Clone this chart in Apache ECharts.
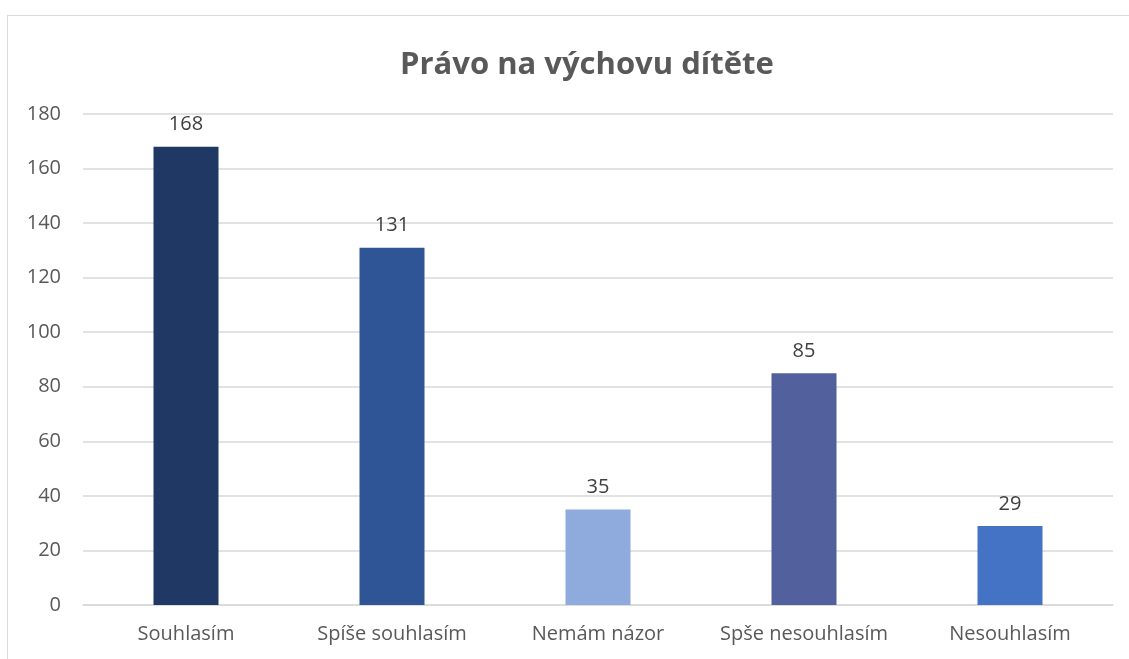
<!DOCTYPE html>
<html>
<head>
<meta charset="utf-8">
<script src="https://cdn.jsdelivr.net/npm/echarts@6/dist/echarts.min.js"></script>
<style>
  html, body { margin: 0; padding: 0; background: #fff; }
  #frame { position: absolute; left: 7px; top: 15px; width: 1140px; height: 680px; border: 1px solid #d9d9d9; box-sizing: border-box; }
  #chart { position: absolute; left: 0; top: 0; width: 1129px; height: 659px; }
</style>
</head>
<body>
<div id="frame"></div>
<div id="chart"></div>
<script>
// data
const categories = ['Souhlasím', 'Spíše souhlasím', 'Nemám názor', 'Spše nesouhlasím', 'Nesouhlasím']
const values = [168, 131, 35, 85, 29]
const barColors = ['#203864', '#2f5597', '#8faadc', '#52619d', '#4472c4']

const chart = echarts.init(document.getElementById('chart'))
const font = '"Open Sans", "Noto Sans", sans-serif'

chart.setOption({
  animation: false,
  title: {
    text: 'Právo na výchovu dítěte',
    left: 395,
    top: 45,
    textStyle: { fontFamily: font, fontSize: 31, fontWeight: 'bold', color: '#595959' }
  },
  grid: { left: 83, right: 16, top: 114, bottom: 54 },
  xAxis: {
    type: 'category',
    data: categories,
    axisTick: { show: false },
    axisLine: { lineStyle: { color: '#d9d9d9', width: 1.5 } },
    axisLabel: { interval: 0, hideOverlap: false, margin: 19, fontFamily: font, fontSize: 20, color: '#595959' }
  },
  yAxis: {
    type: 'value',
    min: 0,
    max: 180,
    interval: 20,
    axisLine: { show: false },
    axisTick: { show: false },
    splitLine: { lineStyle: { color: '#d9d9d9', width: 1.5 } },
    axisLabel: { margin: 22, fontFamily: font, fontSize: 20, color: '#595959' }
  },
  series: [{
    type: 'bar',
    barWidth: 65,
    data: values.map((v, i) => ({ value: v, itemStyle: { color: barColors[i] } })),
    label: {
      show: true,
      position: 'top',
      distance: 12,
      fontFamily: font,
      fontSize: 20,
      color: '#404040'
    }
  }]
})
</script>
</body>
</html>
